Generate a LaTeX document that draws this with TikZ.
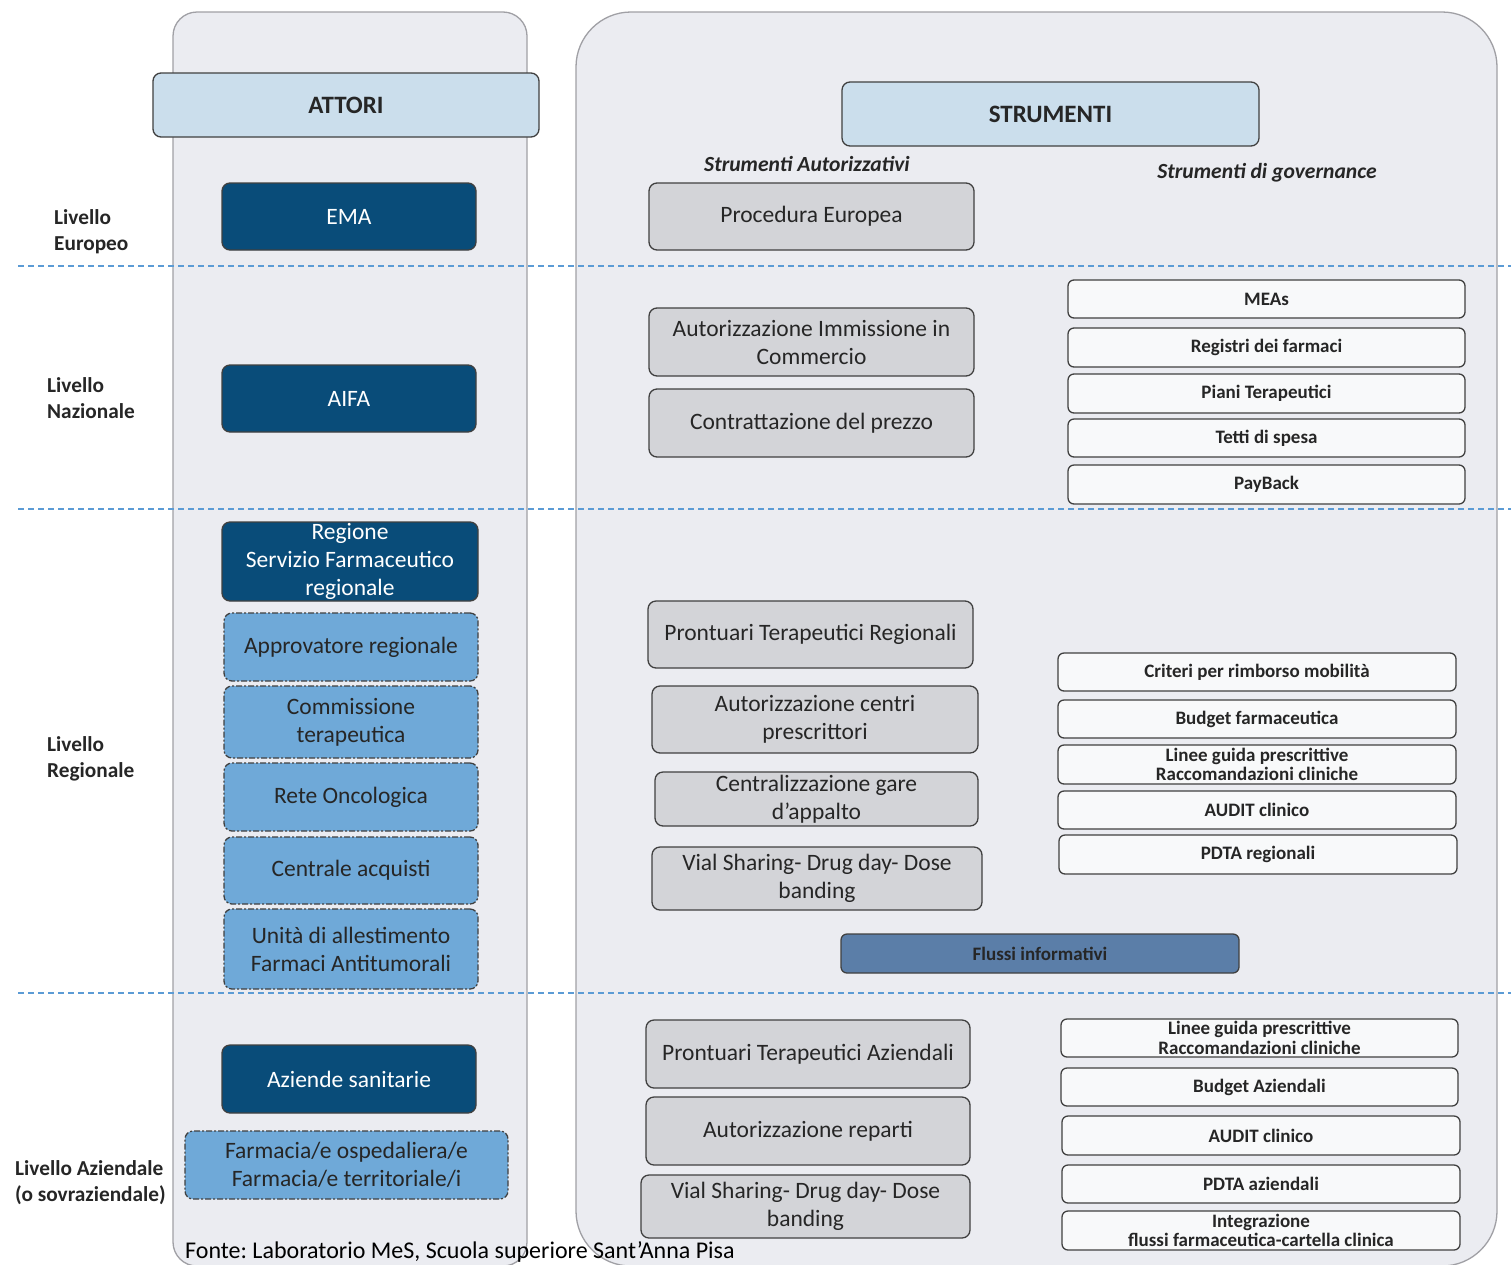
\documentclass[tikz,border=0pt]{standalone}
\usepackage{fontspec}
\setmainfont{Carlito}
\frenchspacing
\definecolor{panelbg}{RGB}{235,236,241}
\definecolor{panelline}{RGB}{160,160,165}
\definecolor{boxline}{RGB}{64,64,64}
\definecolor{hdrfill}{RGB}{203,222,236}
\definecolor{darkblue}{RGB}{9,76,121}
\definecolor{lightblue}{RGB}{111,169,216}
\definecolor{graybox}{RGB}{211,212,216}
\definecolor{whitebox}{RGB}{248,249,250}
\definecolor{flussi}{RGB}{91,126,168}
\definecolor{dashblue}{RGB}{91,155,213}
\definecolor{txt}{RGB}{38,38,38}
\tikzset{
 base/.style={rounded corners=8pt, line width=1.3pt, draw=boxline, align=center, inner sep=0pt},
 hdr/.style={base, fill=hdrfill, font=\fontsize{25}{28}\selectfont\bfseries, text=txt},
 dark/.style={base, fill=darkblue, text=white, font=\fontsize{23.5}{28}\selectfont},
 light/.style={base, fill=lightblue, dash pattern=on 6pt off 2pt on 2pt off 2pt, text=txt, font=\fontsize{23.5}{28}\selectfont},
 grayb/.style={base, fill=graybox, text=txt, font=\fontsize{23.5}{28}\selectfont},
 whiteb/.style={base, fill=whitebox, text=txt, rounded corners=6pt, font=\fontsize{19}{19.5}\selectfont\bfseries},
 flussib/.style={base, fill=flussi, text=txt, rounded corners=6pt, font=\fontsize{19}{19.5}\selectfont\bfseries},
 lvl/.style={anchor=west, align=left, inner sep=0pt, font=\fontsize{21.3}{26}\selectfont\bfseries, text=txt},
 sec/.style={inner sep=0pt, font=\fontsize{21.6}{24}\selectfont\bfseries\itshape, text=txt},
 levelline/.style={draw=dashblue, line width=1.5pt, dash pattern=on 6pt off 4pt},
 panel/.style={fill=panelbg, draw=panelline, line width=1.3pt},
}
\newcommand\bx[7]{\node[#1, minimum width={#5-#3}, minimum height={#6-#4}] (#2) at ({(#3+#5)/2},{(#4+#6)/2+1}) {#7};}
\begin{document}
\begin{tikzpicture}[x=1pt,y=-1pt]
\path[clip] (0,0) rectangle (1511,1264);
\fill[white] (0,0) rectangle (1511,1264);
% panels
\draw[panel, rounded corners=24pt] (173,1266) rectangle (527,12);
\draw[panel, rounded corners=55pt] (576,1266) rectangle (1497,12);
% level lines
\coordinate (l1a) at (18,266); \coordinate (l1b) at (1511,266);
\coordinate (l2a) at (18,509); \coordinate (l2b) at (1511,509);
\coordinate (l3a) at (18,993); \coordinate (l3b) at (1511,993);
\draw[levelline] (l1a) -- (l1b);
\draw[levelline] (l2a) -- (l2b);
\draw[levelline] (l3a) -- (l3b);
% headers
\bx{hdr}{attori}{153}{72}{539}{136}{ATTORI}
\bx{hdr}{strumenti}{842}{81}{1259}{145}{STRUMENTI}
\node[sec] (sa) at (807,164) {Strumenti Autorizzativi};
\node[sec] (sg) at (1267,173) {Strumenti di governance};
% level labels
\node[lvl] (lev1) at (54,232) {Livello\\Europeo};
\node[lvl] (lev2) at (47,398) {Livello\\Nazionale};
\node[lvl] (lev3) at (47,759) {Livello\\Regionale};
\node[lvl] (lev4) at (15,1183) {Livello Aziendale\\(o sovraziendale)};
% actors
\bx{dark}{ema}{222}{182}{476}{249}{EMA}
\bx{dark}{aifa}{222}{364}{476}{431}{AIFA}
\bx{dark}{regione}{222}{521}{478}{600}{Regione\\Servizio Farmaceutico\\regionale}
\bx{light}{appr}{224}{612}{478}{680}{Approvatore regionale}
\bx{light}{comm}{224}{685}{478}{757}{Commissione\\terapeutica}
\bx{light}{rete}{224}{762}{478}{830}{Rete Oncologica}
\bx{light}{centr}{224}{836}{478}{903}{Centrale acquisti}
\bx{light}{unita}{224}{908}{478}{988}{Unità di allestimento\\Farmaci Antitumorali}
\bx{dark}{aziende}{222}{1044}{476}{1112}{Aziende sanitarie}
\bx{light}{farm}{185}{1130}{508}{1198}{Farmacia/e ospedaliera/e\\Farmacia/e territoriale/i}
% authorization tools
\bx{grayb}{proc}{649}{182}{974}{249}{Procedura Europea}
\bx{grayb}{aic}{649}{307}{974}{375}{Autorizzazione Immissione in\\Commercio}
\bx{grayb}{prezzo}{649}{388}{974}{456}{Contrattazione del prezzo}
\bx{grayb}{ptr}{648}{600}{973}{667}{Prontuari Terapeutici Regionali}
\bx{grayb}{acp}{652}{685}{978}{752}{Autorizzazione centri\\prescrittori}
\bx{grayb}{gare}{655}{771}{978}{825}{Centralizzazione gare\\d’appalto}
\bx{grayb}{vial1}{652}{846}{982}{909}{Vial Sharing- Drug day- Dose\\banding}
\bx{flussib}{flussi}{841}{933}{1239}{972}{Flussi informativi}
\bx{grayb}{pta}{646}{1019}{970}{1087}{Prontuari Terapeutici Aziendali}
\bx{grayb}{rep}{646}{1096}{970}{1164}{Autorizzazione reparti}
\bx{grayb}{vial2}{641}{1174}{970}{1237}{Vial Sharing- Drug day- Dose\\banding}
% governance tools
\bx{whiteb}{meas}{1068}{279}{1465}{317}{MEAs}
\bx{whiteb}{registri}{1068}{327}{1465}{366}{Registri dei farmaci}
\bx{whiteb}{piani}{1068}{373}{1465}{412}{Piani Terapeutici}
\bx{whiteb}{tetti}{1068}{418}{1465}{456}{Tetti di spesa}
\bx{whiteb}{payback}{1068}{464}{1465}{503}{PayBack}
\bx{whiteb}{criteri}{1058}{652}{1456}{690}{Criteri per rimborso mobilità}
\bx{whiteb}{budgetf}{1058}{699}{1456}{737}{Budget farmaceutica}
\bx{whiteb}{linee1}{1058}{744}{1456}{783}{Linee guida prescrittive\\Raccomandazioni cliniche}
\bx{whiteb}{audit1}{1058}{790}{1456}{828}{AUDIT clinico}
\bx{whiteb}{pdta1}{1059}{834}{1457}{873}{PDTA regionali}
\bx{whiteb}{linee2}{1061}{1018}{1458}{1056}{Linee guida prescrittive\\Raccomandazioni cliniche}
\bx{whiteb}{budgeta}{1061}{1067}{1458}{1105}{Budget Aziendali}
\bx{whiteb}{audit2}{1062}{1115}{1460}{1154}{AUDIT clinico}
\bx{whiteb}{pdta2}{1062}{1164}{1460}{1202}{PDTA aziendali}
\bx{whiteb}{integr}{1062}{1210}{1460}{1249}{Integrazione\\flussi farmaceutica-cartella clinica}
% source
\node[anchor=west, inner sep=0pt, font=\fontsize{24}{26}\selectfont, text=black] (fonte) at (185,1252) {Fonte: Laboratorio MeS, Scuola superiore Sant’Anna Pisa};
\end{tikzpicture}
\end{document}
